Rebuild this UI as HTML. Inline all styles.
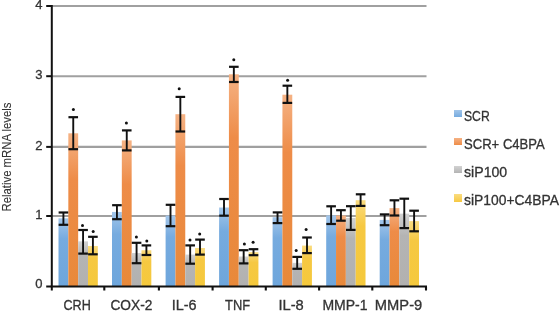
<!DOCTYPE html>
<html><head><meta charset="utf-8"><style>
html,body{margin:0;padding:0;background:#fff;}
body{width:560px;height:311px;position:relative;overflow:hidden;font-family:"Liberation Sans",sans-serif;color:#333;}
svg{position:absolute;left:0;top:0;}
.w{position:absolute;left:0;top:0;width:560px;height:311px;filter:blur(0.4px);}
.t{position:absolute;left:0;top:0;width:560px;height:311px;will-change:transform;-webkit-text-stroke:0.3px #333;}
.yl{position:absolute;left:30.5px;width:12px;text-align:right;font-size:13px;line-height:14px;}
.xl{position:absolute;top:296.8px;width:80px;text-align:center;font-size:14px;line-height:16px;}
.xl span{display:inline-block;}
.yt{position:absolute;left:-58.4px;top:149.7px;width:130px;height:14px;line-height:14px;font-size:12px;text-align:center;transform:rotate(-90deg) scaleX(0.944);white-space:nowrap;-webkit-text-stroke:0.1px #333;}
.lg{position:absolute;left:454.4px;font-size:14px;line-height:16px;white-space:nowrap;}
.lg i{position:absolute;left:0;top:2.1px;width:7.6px;height:7.5px;}
.lg span{position:absolute;left:10px;top:0;transform-origin:0 50%;}
</style></head><body>
<div class="w">
<svg width="560" height="311" viewBox="0 0 560 311">
<defs><linearGradient id="g0" x1="0" y1="0" x2="0" y2="1"><stop offset="0" stop-color="#a3c6ea"/><stop offset="0.3" stop-color="#76abdf"/><stop offset="1" stop-color="#6ea6dc"/></linearGradient><linearGradient id="g1" x1="0" y1="0" x2="0" y2="1"><stop offset="0" stop-color="#f5b284"/><stop offset="0.3" stop-color="#ee8c48"/><stop offset="1" stop-color="#e8893a"/></linearGradient><linearGradient id="g2" x1="0" y1="0" x2="0" y2="1"><stop offset="0" stop-color="#d2d2d2"/><stop offset="0.3" stop-color="#b4b4b4"/><stop offset="1" stop-color="#b2b1b0"/></linearGradient><linearGradient id="g3" x1="0" y1="0" x2="0" y2="1"><stop offset="0" stop-color="#fadc80"/><stop offset="0.3" stop-color="#f6c842"/><stop offset="1" stop-color="#f5c93c"/></linearGradient></defs><line x1="51.8" y1="216" x2="426.5" y2="216" stroke="#a0a0a0" stroke-width="2.1"/>
<line x1="51.8" y1="146.9" x2="426.5" y2="146.9" stroke="#a0a0a0" stroke-width="2.1"/>
<line x1="51.8" y1="76.2" x2="426.5" y2="76.2" stroke="#a0a0a0" stroke-width="2.1"/>
<line x1="51.8" y1="6" x2="426.5" y2="6" stroke="#a0a0a0" stroke-width="2.1"/>
<rect x="58.5" y="218.32" width="9.83" height="68.18" fill="url(#g0)"/>
<rect x="68.33" y="133.3" width="9.83" height="153.2" fill="url(#g1)"/>
<rect x="78.16" y="241.35" width="9.83" height="45.15" fill="url(#g2)"/>
<rect x="87.99" y="245.98" width="9.83" height="40.52" fill="url(#g3)"/>
<rect x="112" y="211.95" width="9.83" height="74.55" fill="url(#g0)"/>
<rect x="121.83" y="140.4" width="9.83" height="146.1" fill="url(#g1)"/>
<rect x="131.66" y="253" width="9.83" height="33.5" fill="url(#g2)"/>
<rect x="141.49" y="250.25" width="9.83" height="36.25" fill="url(#g3)"/>
<rect x="165.6" y="215.6" width="9.83" height="70.9" fill="url(#g0)"/>
<rect x="175.43" y="114.2" width="9.83" height="172.3" fill="url(#g1)"/>
<rect x="185.26" y="254.57" width="9.83" height="31.93" fill="url(#g2)"/>
<rect x="195.09" y="248" width="9.83" height="38.5" fill="url(#g3)"/>
<rect x="219.1" y="207.52" width="9.83" height="78.98" fill="url(#g0)"/>
<rect x="228.93" y="74.3" width="9.83" height="212.2" fill="url(#g1)"/>
<rect x="238.76" y="256.5" width="9.83" height="30" fill="url(#g2)"/>
<rect x="248.59" y="252.2" width="9.83" height="34.3" fill="url(#g3)"/>
<rect x="272.6" y="217.22" width="9.83" height="69.28" fill="url(#g0)"/>
<rect x="282.43" y="94.7" width="9.83" height="191.8" fill="url(#g1)"/>
<rect x="292.26" y="262.85" width="9.83" height="23.65" fill="url(#g2)"/>
<rect x="302.09" y="245.6" width="9.83" height="40.9" fill="url(#g3)"/>
<rect x="326.2" y="215.38" width="9.83" height="71.12" fill="url(#g0)"/>
<rect x="336.03" y="215.52" width="9.83" height="70.98" fill="url(#g1)"/>
<rect x="345.86" y="217.93" width="9.83" height="68.57" fill="url(#g2)"/>
<rect x="355.69" y="200.2" width="9.83" height="86.3" fill="url(#g3)"/>
<rect x="379.7" y="219.9" width="9.83" height="66.6" fill="url(#g0)"/>
<rect x="389.53" y="208.1" width="9.83" height="78.4" fill="url(#g1)"/>
<rect x="399.36" y="213.65" width="9.83" height="72.85" fill="url(#g2)"/>
<rect x="409.19" y="221.1" width="9.83" height="65.4" fill="url(#g3)"/>
<line x1="63.41" y1="212.5" x2="63.41" y2="224.8" stroke="#111" stroke-width="1.9"/>
<line x1="58.62" y1="212.5" x2="68.22" y2="212.5" stroke="#111" stroke-width="2.2"/>
<line x1="58.62" y1="224.8" x2="68.22" y2="224.8" stroke="#111" stroke-width="2.2"/>
<line x1="73.25" y1="117.2" x2="73.25" y2="149.2" stroke="#111" stroke-width="1.9"/>
<line x1="68.45" y1="117.2" x2="78.05" y2="117.2" stroke="#111" stroke-width="2.2"/>
<line x1="68.45" y1="149.2" x2="78.05" y2="149.2" stroke="#111" stroke-width="2.2"/>
<circle cx="73.4" cy="109.5" r="1.5" fill="#111"/>
<line x1="83.08" y1="230" x2="83.08" y2="253.6" stroke="#111" stroke-width="1.9"/>
<line x1="78.28" y1="230" x2="87.88" y2="230" stroke="#111" stroke-width="2.2"/>
<line x1="78.28" y1="253.6" x2="87.88" y2="253.6" stroke="#111" stroke-width="2.2"/>
<circle cx="82.5" cy="225.4" r="1.5" fill="#111"/>
<line x1="92.91" y1="236.8" x2="92.91" y2="254.3" stroke="#111" stroke-width="1.9"/>
<line x1="88.11" y1="236.8" x2="97.71" y2="236.8" stroke="#111" stroke-width="2.2"/>
<line x1="88.11" y1="254.3" x2="97.71" y2="254.3" stroke="#111" stroke-width="2.2"/>
<circle cx="93.2" cy="231.6" r="1.5" fill="#111"/>
<line x1="116.92" y1="205.2" x2="116.92" y2="219.2" stroke="#111" stroke-width="1.9"/>
<line x1="112.12" y1="205.2" x2="121.72" y2="205.2" stroke="#111" stroke-width="2.2"/>
<line x1="112.12" y1="219.2" x2="121.72" y2="219.2" stroke="#111" stroke-width="2.2"/>
<line x1="126.75" y1="130.4" x2="126.75" y2="150.4" stroke="#111" stroke-width="1.9"/>
<line x1="121.95" y1="130.4" x2="131.55" y2="130.4" stroke="#111" stroke-width="2.2"/>
<line x1="121.95" y1="150.4" x2="131.55" y2="150.4" stroke="#111" stroke-width="2.2"/>
<circle cx="126.4" cy="123" r="1.5" fill="#111"/>
<line x1="136.57" y1="242.8" x2="136.57" y2="263.2" stroke="#111" stroke-width="1.9"/>
<line x1="131.77" y1="242.8" x2="141.38" y2="242.8" stroke="#111" stroke-width="2.2"/>
<line x1="131.77" y1="263.2" x2="141.38" y2="263.2" stroke="#111" stroke-width="2.2"/>
<circle cx="136.4" cy="237" r="1.5" fill="#111"/>
<line x1="146.41" y1="245.4" x2="146.41" y2="255" stroke="#111" stroke-width="1.9"/>
<line x1="141.6" y1="245.4" x2="151.21" y2="245.4" stroke="#111" stroke-width="2.2"/>
<line x1="141.6" y1="255" x2="151.21" y2="255" stroke="#111" stroke-width="2.2"/>
<circle cx="146.8" cy="240.9" r="1.5" fill="#111"/>
<line x1="170.51" y1="204.8" x2="170.51" y2="226.2" stroke="#111" stroke-width="1.9"/>
<line x1="165.71" y1="204.8" x2="175.31" y2="204.8" stroke="#111" stroke-width="2.2"/>
<line x1="165.71" y1="226.2" x2="175.31" y2="226.2" stroke="#111" stroke-width="2.2"/>
<line x1="180.34" y1="96.9" x2="180.34" y2="131.5" stroke="#111" stroke-width="1.9"/>
<line x1="175.54" y1="96.9" x2="185.15" y2="96.9" stroke="#111" stroke-width="2.2"/>
<line x1="175.54" y1="131.5" x2="185.15" y2="131.5" stroke="#111" stroke-width="2.2"/>
<circle cx="179.2" cy="88.7" r="1.5" fill="#111"/>
<line x1="190.17" y1="245.4" x2="190.17" y2="263.7" stroke="#111" stroke-width="1.9"/>
<line x1="185.37" y1="245.4" x2="194.97" y2="245.4" stroke="#111" stroke-width="2.2"/>
<line x1="185.37" y1="263.7" x2="194.97" y2="263.7" stroke="#111" stroke-width="2.2"/>
<circle cx="190" cy="240.1" r="1.5" fill="#111"/>
<line x1="200" y1="239.6" x2="200" y2="254.6" stroke="#111" stroke-width="1.9"/>
<line x1="195.2" y1="239.6" x2="204.81" y2="239.6" stroke="#111" stroke-width="2.2"/>
<line x1="195.2" y1="254.6" x2="204.81" y2="254.6" stroke="#111" stroke-width="2.2"/>
<circle cx="199.7" cy="234.1" r="1.5" fill="#111"/>
<line x1="224.01" y1="199" x2="224.01" y2="215.7" stroke="#111" stroke-width="1.9"/>
<line x1="219.21" y1="199" x2="228.81" y2="199" stroke="#111" stroke-width="2.2"/>
<line x1="219.21" y1="215.7" x2="228.81" y2="215.7" stroke="#111" stroke-width="2.2"/>
<line x1="233.84" y1="66.8" x2="233.84" y2="82" stroke="#111" stroke-width="1.9"/>
<line x1="229.04" y1="66.8" x2="238.65" y2="66.8" stroke="#111" stroke-width="2.2"/>
<line x1="229.04" y1="82" x2="238.65" y2="82" stroke="#111" stroke-width="2.2"/>
<circle cx="233.8" cy="59.7" r="1.5" fill="#111"/>
<line x1="243.67" y1="250.2" x2="243.67" y2="263.4" stroke="#111" stroke-width="1.9"/>
<line x1="238.87" y1="250.2" x2="248.47" y2="250.2" stroke="#111" stroke-width="2.2"/>
<line x1="238.87" y1="263.4" x2="248.47" y2="263.4" stroke="#111" stroke-width="2.2"/>
<circle cx="244.4" cy="244.1" r="1.5" fill="#111"/>
<line x1="253.5" y1="249.2" x2="253.5" y2="255.2" stroke="#111" stroke-width="1.9"/>
<line x1="248.7" y1="249.2" x2="258.31" y2="249.2" stroke="#111" stroke-width="2.2"/>
<line x1="248.7" y1="255.2" x2="258.31" y2="255.2" stroke="#111" stroke-width="2.2"/>
<circle cx="253.1" cy="242.3" r="1.5" fill="#111"/>
<line x1="277.52" y1="212.4" x2="277.52" y2="223.1" stroke="#111" stroke-width="1.9"/>
<line x1="272.72" y1="212.4" x2="282.32" y2="212.4" stroke="#111" stroke-width="2.2"/>
<line x1="272.72" y1="223.1" x2="282.32" y2="223.1" stroke="#111" stroke-width="2.2"/>
<line x1="287.35" y1="85.7" x2="287.35" y2="102.9" stroke="#111" stroke-width="1.9"/>
<line x1="282.55" y1="85.7" x2="292.15" y2="85.7" stroke="#111" stroke-width="2.2"/>
<line x1="282.55" y1="102.9" x2="292.15" y2="102.9" stroke="#111" stroke-width="2.2"/>
<circle cx="287.6" cy="80.3" r="1.5" fill="#111"/>
<line x1="297.18" y1="256.9" x2="297.18" y2="268.8" stroke="#111" stroke-width="1.9"/>
<line x1="292.38" y1="256.9" x2="301.98" y2="256.9" stroke="#111" stroke-width="2.2"/>
<line x1="292.38" y1="268.8" x2="301.98" y2="268.8" stroke="#111" stroke-width="2.2"/>
<circle cx="296.2" cy="250.4" r="1.5" fill="#111"/>
<line x1="307.01" y1="237.5" x2="307.01" y2="253.1" stroke="#111" stroke-width="1.9"/>
<line x1="302.21" y1="237.5" x2="311.81" y2="237.5" stroke="#111" stroke-width="2.2"/>
<line x1="302.21" y1="253.1" x2="311.81" y2="253.1" stroke="#111" stroke-width="2.2"/>
<circle cx="306.1" cy="229.5" r="1.5" fill="#111"/>
<line x1="331.12" y1="206.3" x2="331.12" y2="224" stroke="#111" stroke-width="1.9"/>
<line x1="326.31" y1="206.3" x2="335.92" y2="206.3" stroke="#111" stroke-width="2.2"/>
<line x1="326.31" y1="224" x2="335.92" y2="224" stroke="#111" stroke-width="2.2"/>
<line x1="340.94" y1="210.2" x2="340.94" y2="220.7" stroke="#111" stroke-width="1.9"/>
<line x1="336.14" y1="210.2" x2="345.75" y2="210.2" stroke="#111" stroke-width="2.2"/>
<line x1="336.14" y1="220.7" x2="345.75" y2="220.7" stroke="#111" stroke-width="2.2"/>
<line x1="350.78" y1="206.2" x2="350.78" y2="229.9" stroke="#111" stroke-width="1.9"/>
<line x1="345.98" y1="206.2" x2="355.58" y2="206.2" stroke="#111" stroke-width="2.2"/>
<line x1="345.98" y1="229.9" x2="355.58" y2="229.9" stroke="#111" stroke-width="2.2"/>
<line x1="360.61" y1="194.3" x2="360.61" y2="205.9" stroke="#111" stroke-width="1.9"/>
<line x1="355.81" y1="194.3" x2="365.41" y2="194.3" stroke="#111" stroke-width="2.2"/>
<line x1="355.81" y1="205.9" x2="365.41" y2="205.9" stroke="#111" stroke-width="2.2"/>
<line x1="384.62" y1="214.4" x2="384.62" y2="225.2" stroke="#111" stroke-width="1.9"/>
<line x1="379.81" y1="214.4" x2="389.42" y2="214.4" stroke="#111" stroke-width="2.2"/>
<line x1="379.81" y1="225.2" x2="389.42" y2="225.2" stroke="#111" stroke-width="2.2"/>
<line x1="394.44" y1="200.3" x2="394.44" y2="215.5" stroke="#111" stroke-width="1.9"/>
<line x1="389.64" y1="200.3" x2="399.25" y2="200.3" stroke="#111" stroke-width="2.2"/>
<line x1="389.64" y1="215.5" x2="399.25" y2="215.5" stroke="#111" stroke-width="2.2"/>
<line x1="404.28" y1="198.7" x2="404.28" y2="228.1" stroke="#111" stroke-width="1.9"/>
<line x1="399.48" y1="198.7" x2="409.08" y2="198.7" stroke="#111" stroke-width="2.2"/>
<line x1="399.48" y1="228.1" x2="409.08" y2="228.1" stroke="#111" stroke-width="2.2"/>
<line x1="414.11" y1="210.7" x2="414.11" y2="231.3" stroke="#111" stroke-width="1.9"/>
<line x1="409.31" y1="210.7" x2="418.91" y2="210.7" stroke="#111" stroke-width="2.2"/>
<line x1="409.31" y1="231.3" x2="418.91" y2="231.3" stroke="#111" stroke-width="2.2"/>
<line x1="51.8" y1="5" x2="51.8" y2="290.5" stroke="#111" stroke-width="2"/>
<line x1="50.8" y1="286.5" x2="427" y2="286.5" stroke="#111" stroke-width="2.2"/>
<line x1="104.3" y1="286.5" x2="104.3" y2="290.5" stroke="#111" stroke-width="2.1"/>
<line x1="158.9" y1="286.5" x2="158.9" y2="290.5" stroke="#111" stroke-width="2.1"/>
<line x1="212.6" y1="286.5" x2="212.6" y2="290.5" stroke="#111" stroke-width="2.1"/>
<line x1="265.8" y1="286.5" x2="265.8" y2="290.5" stroke="#111" stroke-width="2.1"/>
<line x1="319.1" y1="286.5" x2="319.1" y2="290.5" stroke="#111" stroke-width="2.1"/>
<line x1="372.3" y1="286.5" x2="372.3" y2="290.5" stroke="#111" stroke-width="2.1"/>
<line x1="426" y1="286.5" x2="426" y2="290.5" stroke="#111" stroke-width="2.1"/>
<line x1="46.2" y1="216" x2="51.8" y2="216" stroke="#111" stroke-width="2"/>
<line x1="46.2" y1="146.9" x2="51.8" y2="146.9" stroke="#111" stroke-width="2"/>
<line x1="46.2" y1="76.2" x2="51.8" y2="76.2" stroke="#111" stroke-width="2"/>
<line x1="46.2" y1="6" x2="51.8" y2="6" stroke="#111" stroke-width="2"/>
<line x1="46.2" y1="286.5" x2="51.8" y2="286.5" stroke="#111" stroke-width="2"/>
</svg>
<div class="t">
<div class="yl" style="top:276.6px">0</div>
<div class="yl" style="top:208.3px">1</div>
<div class="yl" style="top:138.5px">2</div>
<div class="yl" style="top:67.8px">3</div>
<div class="yl" style="top:-1.7px">4</div>
<div class="xl" style="left:37.65px"><span style="transform:scaleX(0.9)">CRH</span></div>
<div class="xl" style="left:91.9px"><span style="transform:scaleX(0.98)">COX-2</span></div>
<div class="xl" style="left:144.4px"><span style="transform:scaleX(1.03)">IL-6</span></div>
<div class="xl" style="left:198px"><span style="transform:scaleX(0.92)">TNF</span></div>
<div class="xl" style="left:251.1px"><span style="transform:scaleX(1.05)">IL-8</span></div>
<div class="xl" style="left:305px"><span style="transform:scaleX(1.0)">MMP-1</span></div>
<div class="xl" style="left:358.4px"><span style="transform:scaleX(1.05)">MMP-9</span></div>
<div class="yt">Relative mRNA levels</div>
<div class="lg" style="top:107.6px"><i style="background:linear-gradient(#a3c6ea,#76abdf)"></i><span style="transform:scaleX(0.87)">SCR</span></div>
<div class="lg" style="top:135.7px"><i style="background:linear-gradient(#f5b284,#ee8c48)"></i><span style="transform:scaleX(0.934)">SCR+ C4BPA</span></div>
<div class="lg" style="top:163.9px"><i style="background:linear-gradient(#d2d2d2,#b4b4b4)"></i><span style="transform:scaleX(1.01)">siP100</span></div>
<div class="lg" style="top:192px"><i style="background:linear-gradient(#fadc80,#f6c842)"></i><span style="transform:scaleX(0.99)">siP100+C4BPA</span></div>
</div>
</div>
</body></html>
